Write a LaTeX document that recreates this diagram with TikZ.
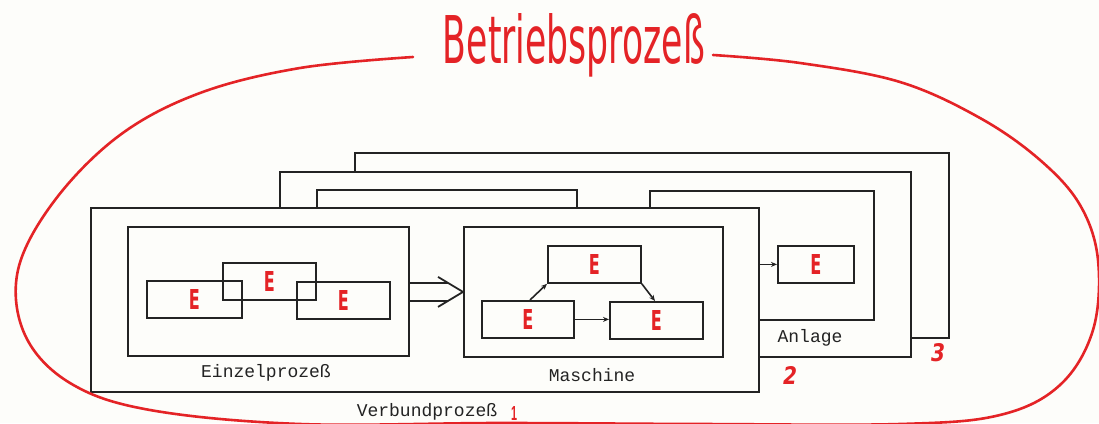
\documentclass[tikz,border=0pt]{standalone}
\usepackage{fontspec}
\usepackage{graphicx}
\newfontfamily\sansb{DejaVu Sans}
\newfontfamily\lsans{Liberation Sans}
\newfontfamily\monofnt{Liberation Mono}
\usetikzlibrary{arrows.meta,calc}
\definecolor{bg}{RGB}{253,253,250}
\definecolor{ink}{RGB}{35,35,35}
\definecolor{hred}{RGB}{228,35,38}
\newcommand\ELet{\textcolor{hred}{\resizebox{11pt}{20pt}{\sansb\bfseries E}}}
\tikzset{
  box/.style={draw=ink, line width=1.8pt, fill=bg, rectangle, inner sep=0pt, anchor=north west},
  ebox/.style={draw=ink, line width=1.8pt, rectangle, inner sep=0pt, anchor=north west, minimum height=37pt},
  lbl/.style={font=\monofnt\fontsize{18}{20}\selectfont, text=ink, inner sep=0pt},
  num/.style={text=hred, inner sep=0pt},
  conn/.style={draw=ink, line width=1.6pt, -{Stealth[length=6pt,width=5pt]}},
  plain/.style={draw=ink, line width=1.8pt},
  redline/.style={draw=hred, line width=2.6pt, line cap=round, line join=round},
}
\begin{document}
\begin{tikzpicture}[x=1pt,y=-1pt]
\useasboundingbox[fill=bg] (0,0) rectangle (1099,423);
% back layer 3
\node[box, minimum width=594pt, minimum height=185pt] (b3) at (354,152) {};
% layer 2
\node[box, minimum width=631pt, minimum height=185pt] (b2) at (279,171) {};
\node[box, minimum width=260pt, minimum height=130pt] (b2a) at (316,189) {};
\node[box, minimum width=224pt, minimum height=129pt] (anl) at (649,190) {};
\node[ebox, minimum width=76pt] (aE) at (777,245) {\ELet};
\node[lbl] (tAnl) at (810,338) {Anlage};
% front layer 1
\node[box, minimum width=668pt, minimum height=184pt] (b1) at (90,207) {};
\node[box, minimum width=281pt, minimum height=129pt] (ein) at (127,226) {};
\node[box, minimum width=259pt, minimum height=130pt] (mas) at (463,226) {};
% Einzelprozess elements
\node[ebox, minimum width=95pt] (eL) at (146,280) {\ELet};
\node[ebox, minimum width=93pt] (eM) at (222,262) {\ELet};
\node[ebox, minimum width=93pt] (eR) at (296,281) {\ELet};
% Maschine elements
\node[ebox, minimum width=93pt] (mT) at (547,245) {\ELet};
\node[ebox, minimum width=92pt] (mL) at (481,300) {\ELet};
\node[ebox, minimum width=93pt] (mR) at (609,301) {\ELet};
% connectors in Maschine
\draw[conn] ($(mL.north west)+(49,0)$) -- (mT.south west);
\draw[conn] (mT.south east) -- ($(mR.north west)+(46,0)$);
\draw[conn] (mL.east) -- (mL.east -| mR.west);
% connector to Anlage element
\draw[conn] (b1.east |- aE.west) -- (aE.west);
% double arrow Einzelprozess -> Maschine
\draw[plain] ($(ein.east)+(0,-8.5)$) -- ($(mas.west |- ein.east)+(-15,-8.5)$);
\draw[plain] ($(ein.east)+(0,9.5)$) -- ($(mas.west |- ein.east)+(-15,9.5)$);
\draw[plain, line join=miter] ($(mas.west)+(-25,-15)$) -- (mas.west) -- ($(mas.west)+(-25,15)$);
% labels
\node[lbl] (tEin) at (266,373) {Einzelprozeß};
\node[lbl] (tMas) at (592,375) {Maschine};
\node[lbl] (tVer) at (427,412) {Verbundprozeß};
% red numbers
\node[num] (n1) at (514,413) {\resizebox{6pt}{14pt}{\lsans\bfseries 1}};
\node[num] (n2) at (790,375) {\resizebox{14pt}{18pt}{\sansb\bfseries\itshape 2}};
\node[num] (n3) at (938,353) {\resizebox{14pt}{18pt}{\sansb\bfseries\itshape 3}};
% title
\node[num, anchor=base] (title) at (574,63) {\resizebox{262pt}{50pt}{\sansb Betriebsprozeß}};
% red enclosing curve
\begin{scope}
\clip (0,0) rectangle (1099,423);
\draw[redline] plot[smooth, tension=0.6] coordinates {
 (413,57) (300,68) (200,93) (120,135) (55,200) (18,270) (25,335) (70,383)
 (150,410) (300,424) (500,423) (700,424) (900,424) (1000,415) (1060,385)
 (1093,330) (1098,260) (1080,205) (1040,160) (980,118) (900,82) (800,63) (713,55)};
\end{scope}
\end{tikzpicture}
\end{document}
